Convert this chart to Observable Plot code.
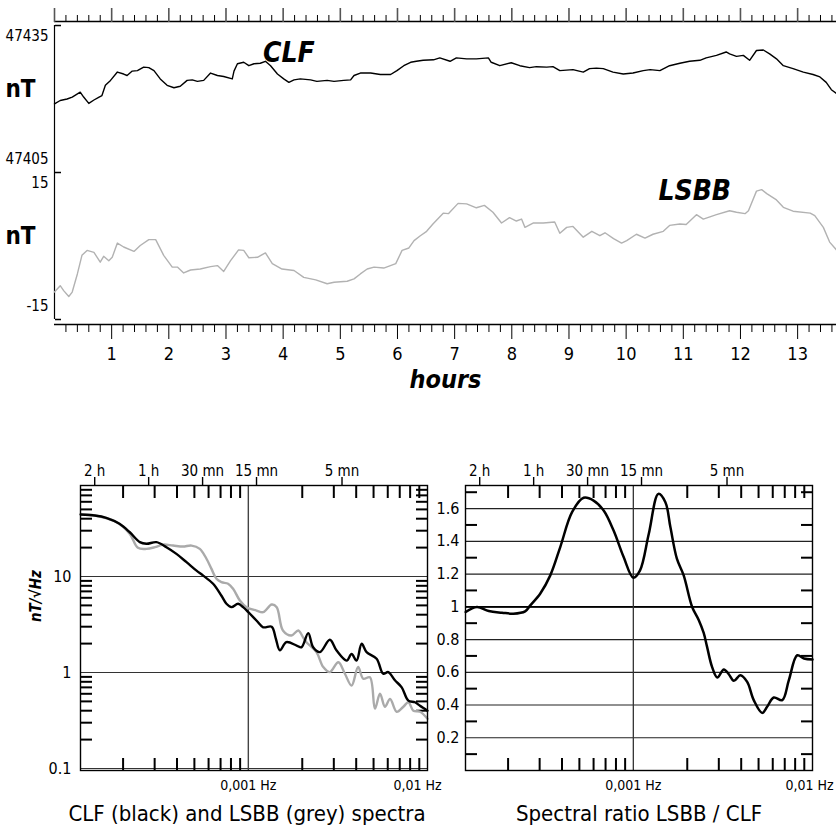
<!DOCTYPE html>
<html><head><meta charset="utf-8">
<script src="https://cdn.jsdelivr.net/npm/d3@7"></script>
<script src="https://cdn.jsdelivr.net/npm/@observablehq/plot@0.6"></script>
<style>
body{margin:0;background:#fff;}
#wrap{position:relative;width:836px;height:840px;overflow:hidden;background:#fff;}
</style></head>
<body><div id="wrap"></div>
<script>
// ---------- DATA ----------
const clfHours = [0.0,0.10,0.22,0.31,0.45,0.51,0.60,0.69,0.78,0.83,
  0.89,0.98,1.10,1.21,1.27,1.36,1.45,1.56,1.65,1.74,
  1.85,1.97,2.09,2.20,2.32,2.41,2.50,2.61,2.73,2.85,
  2.96,3.11,3.14,3.20,3.31,3.40,3.49,3.60,3.69,3.78,
  3.90,4.01,4.10,4.19,4.30,4.48,4.59,4.77,4.89,5.06,
  5.18,5.24,5.35,5.53,5.70,5.88,5.99,6.11,6.23,6.33,
  6.45,6.63,6.74,6.92,7.03,7.21,7.38,7.59,7.64,7.79,
  7.99,8.14,8.31,8.43,8.61,8.72,8.84,9.07,9.25,9.36,
  9.48,9.60,9.77,9.95,10.12,10.30,10.42,10.59,10.76,10.94,
  11.11,11.29,11.40,11.58,11.75,11.81,11.93,12.05,12.16,12.28,
  12.40,12.51,12.63,12.75,12.92,13.10,13.27,13.39,13.50,13.59,13.68];
const clfNT = [47419.0,47419.7,47420.0,47420.4,47421.4,47420.4,47419.1,47419.8,47420.4,47420.7,
  47422.8,47423.8,47425.5,47425.1,47424.8,47425.7,47425.8,47426.5,47426.4,47425.8,
  47424.1,47422.8,47422.3,47422.6,47423.8,47423.9,47423.6,47423.8,47425.3,47424.8,
  47424.6,47424.1,47425.7,47427.2,47427.5,47426.8,47427.2,47427.3,47427.7,47426.8,
  47425.1,47424.1,47423.4,47423.9,47424.1,47423.9,47423.6,47423.8,47423.6,47423.8,
  47423.9,47424.8,47425.3,47425.3,47425.0,47425.0,47425.8,47426.8,47427.5,47427.7,
  47427.9,47428.0,47428.4,47427.7,47428.4,47428.2,47428.2,47428.4,47427.5,47426.8,
  47427.4,47426.8,47426.4,47426.6,47426.5,47426.6,47425.8,47426.0,47425.5,47426.2,
  47426.3,47426.2,47425.5,47425.1,47425.3,47425.8,47426.0,47425.8,47426.8,47427.3,
  47427.7,47427.9,47428.4,47428.9,47429.6,47429.2,47428.7,47428.9,47427.9,47429.9,
  47430.0,47429.2,47428.2,47426.8,47426.2,47425.5,47425.0,47424.5,47423.4,47421.9,47421.1];
const lsbbHours = [0.00,0.10,0.16,0.25,0.31,0.40,0.48,0.57,0.69,0.80,
  0.86,0.95,1.01,1.10,1.21,1.39,1.50,1.65,1.77,1.91,
  2.06,2.15,2.26,2.38,2.55,2.73,2.85,2.96,3.08,3.22,
  3.31,3.40,3.55,3.69,3.81,3.98,4.19,4.36,4.57,4.77,
  4.89,5.12,5.24,5.35,5.47,5.59,5.76,5.97,6.08,6.20,
  6.29,6.40,6.51,6.62,6.80,6.89,7.06,7.21,7.38,7.52,
  7.67,7.82,7.96,8.08,8.17,8.23,8.38,8.55,8.75,8.84,
  8.96,9.07,9.25,9.40,9.54,9.63,9.78,9.92,10.01,10.18,
  10.33,10.47,10.65,10.76,10.94,11.05,11.23,11.35,11.58,11.81,
  11.93,12.08,12.14,12.28,12.37,12.46,12.63,12.75,12.92,13.22,
  13.30,13.45,13.56,13.68];
const lsbbNT = [-9.4,-8.1,-9.1,-10.3,-9.4,-5.7,-1.9,-0.9,-1.3,-3.3,
  -2.1,-3.0,-2.3,0.6,-0.2,-1.1,0.1,1.3,1.3,-1.9,
  -4.3,-4.3,-5.5,-4.9,-4.7,-4.2,-4.0,-5.2,-3.0,-0.8,
  -0.9,-2.4,-2.3,-1.4,-3.6,-4.7,-5.0,-6.4,-6.9,-7.7,
  -7.4,-7.2,-6.7,-5.7,-4.7,-4.3,-4.5,-3.6,-0.9,-0.4,
  1.1,2.1,3.0,4.5,6.7,6.6,8.7,8.6,7.8,8.3,
  6.9,4.7,5.8,5.1,5.5,3.8,4.7,4.7,4.9,2.6,
  3.8,4.0,1.8,3.0,2.1,2.7,1.5,0.6,1.1,2.4,
  1.6,2.4,3.0,4.2,4.5,4.4,6.4,5.5,6.4,7.2,
  6.9,6.6,7.2,11.2,11.5,10.7,9.4,7.9,7.1,6.7,
  6.2,3.8,0.8,-0.8];
const clfScale = [47405, 47435];
const lsbbScale = [-15, 15];
const hourTicks = [1,2,3,4,5,6,7,8,9,10,11,12,13];

const specFreqClf = [1.16e-4,1.39e-4,1.61e-4,1.91e-4,2.18e-4,2.48e-4,2.70e-4,3.07e-4,3.49e-4,3.97e-4,
  4.52e-4,5.14e-4,5.60e-4,6.36e-4,7.08e-4,7.55e-4,8.05e-4,8.77e-4,9.35e-4,1.00e-3,
  1.11e-3,1.21e-3,1.35e-3,1.42e-3,1.50e-3,1.63e-3,1.86e-3,1.98e-3,2.16e-3,2.30e-3,
  2.51e-3,2.85e-3,3.11e-3,3.54e-3,3.77e-3,4.02e-3,4.29e-3,4.57e-3,5.20e-3,5.66e-3,
  6.04e-3,6.58e-3,7.18e-3,7.82e-3,8.51e-3,9.08e-3,1.0e-2];
const specAmpClf = [44.2,43.2,40.9,35.4,28.9,22.8,21.9,22.8,20.2,17.2,
  14.1,11.5,10.2,8.4,6.3,5.2,4.8,5.2,4.8,4.25,
  3.48,2.96,3.0,2.3,1.7,2.07,1.91,1.83,2.57,1.83,
  1.63,2.19,1.69,1.33,1.56,1.33,1.99,1.63,1.39,0.97,
  1.01,0.83,0.70,0.51,0.49,0.45,0.40];
const specFreqLsbb = [1.16e-4,1.39e-4,1.84e-4,2.18e-4,2.42e-4,2.70e-4,3.01e-4,3.34e-4,3.80e-4,4.32e-4,
  4.82e-4,5.36e-4,5.84e-4,6.23e-4,6.64e-4,7.08e-4,7.71e-4,8.22e-4,8.97e-4,9.77e-4,
  1.11e-3,1.21e-3,1.35e-3,1.44e-3,1.56e-3,1.74e-3,1.90e-3,2.02e-3,2.11e-3,2.40e-3,
  2.62e-3,2.85e-3,3.18e-3,3.46e-3,3.77e-3,4.10e-3,4.38e-3,4.77e-3,5.09e-3,5.43e-3,
  5.79e-3,6.18e-3,6.73e-3,7.33e-3,7.82e-3,8.34e-3,9.08e-3,1.0e-2];
const specAmpLsbb = [44.2,43.2,36.8,27.8,19.9,19.4,20.2,21.5,21.0,20.5,
  21.0,19.4,15.3,12.0,9.46,8.73,8.40,7.45,5.62,4.79,
  4.42,4.25,5.11,4.79,2.74,2.43,2.74,2.33,2.07,1.63,
  1.14,1.01,1.28,0.97,0.73,1.14,0.86,0.89,0.42,0.60,
  0.44,0.53,0.39,0.44,0.49,0.40,0.39,0.33];
const ratioFreq = [1.16e-4,1.34e-4,1.56e-4,1.85e-4,2.14e-4,2.49e-4,2.66e-4,3.02e-4,3.44e-4,3.91e-4,
  4.55e-4,5.28e-4,6.00e-4,6.83e-4,7.76e-4,8.83e-4,1.0e-3,1.09e-3,1.22e-3,1.38e-3,
  1.51e-3,1.61e-3,1.75e-3,1.91e-3,2.13e-3,2.32e-3,2.47e-3,2.58e-3,2.75e-3,2.94e-3,
  3.20e-3,3.41e-3,3.64e-3,3.96e-3,4.32e-3,4.70e-3,5.24e-3,5.58e-3,6.08e-3,6.78e-3,
  7.38e-3,8.22e-3,8.96e-3,1.0e-2];
const ratioValue = [0.968,0.999,0.974,0.964,0.958,0.972,1.009,1.080,1.192,1.365,
  1.578,1.666,1.649,1.588,1.466,1.304,1.178,1.223,1.446,1.690,
  1.639,1.487,1.294,1.192,0.999,0.918,0.84,0.755,0.633,0.568,
  0.617,0.588,0.548,0.582,0.541,0.430,0.352,0.389,0.446,0.430,
  0.552,0.704,0.684,0.678];
const periodSeconds = [7200, 3600, 1800, 900, 300];
const periodLabels = ["2 h", "1 h", "30 mn", "15 mn", "5 mn"];
const freqTickValues = [0.001, 0.01];
const freqTickLabels = ["0,001 Hz", "0,01 Hz"];
const ampTicks = [10, 1, 0.1];
const ratioTicks = [0.2, 0.4, 0.6, 0.8, 1, 1.2, 1.4, 1.6];
const freqMinorTicks = [2e-4, 3e-4, 4e-4, 5e-4, 6e-4, 7e-4, 8e-4, 9e-4, 2e-3, 3e-3, 4e-3, 5e-3, 6e-3, 7e-3, 8e-3, 9e-3];
const ampMinorTicks = [0.2, 0.3, 0.4, 0.5, 0.6, 0.7, 0.8, 0.9, 2, 3, 4, 5, 6, 7, 8, 9, 20, 30, 40, 50, 60, 70, 80];
const ratioMinorTicks = [0.1, 0.3, 0.5, 0.7, 0.9, 1.1, 1.3, 1.5, 1.7];
const seriesNames = ["CLF", "LSBB"];

// ---------- BUILD ----------
const NARROW = '"Liberation Sans Narrow","Arial Narrow","DejaVu Sans Condensed","Liberation Sans",Arial,sans-serif';
const wrap = document.getElementById("wrap");
function place(svg, left, top) {
  svg.style.position = "absolute";
  svg.style.left = left + "px";
  svg.style.top = top + "px";
  svg.style.overflow = "visible";
  wrap.appendChild(svg);
}
const blank = () => "";

const clf = clfHours.map((h, i) => ({h, y: clfNT[i] - clfScale[0] + 30}));
const lsbb = lsbbHours.map((h, i) => ({h, y: lsbbNT[i] - lsbbScale[0]}));
const bands = [
  {lo: 30, hi: 60, loLabel: String(clfScale[0]), hiLabel: String(clfScale[1])},
  {lo: 0, hi: 30, loLabel: String(lsbbScale[0]), hiLabel: String(lsbbScale[1])}
];
const bandEnds = [60, 30, 0];
const stackDomain = [-1.02, 60.82];
const hourMinor = d3.range(0, 13.7, 0.2).filter(h => Math.abs(h - Math.round(h)) > 0.01);
const nameLabels = [
  {name: seriesNames[0], h: 4.1, y: 47429.3 - clfScale[0] + 30},
  {name: seriesNames[1], h: 11.2, y: 11.3 - lsbbScale[0]}
];

const topPlot = Plot.plot({
  width: 836, height: 400,
  marginLeft: 54, marginRight: 0, marginTop: 21, marginBottom: 76,
  style: {fontFamily: NARROW, background: "transparent", color: "#000"},
  x: {domain: [0, 13.68], axis: null},
  y: {domain: stackDomain, axis: null},
  marks: [
    Plot.ruleY([stackDomain[0], stackDomain[1]], {stroke: "#000", strokeWidth: 1.4}),
    Plot.axisX(d3.range(0, 14), {anchor: "top", label: null, tickSize: 14, tickFormat: blank, stroke: "#555", strokeWidth: 1.6}),
    Plot.axisX(hourMinor, {anchor: "top", label: null, tickSize: 7, tickFormat: blank}),
    Plot.axisX(hourTicks, {anchor: "bottom", label: null, tickSize: 15, tickPadding: 8, fontSize: 18, tickFormat: d => String(d)}),
    Plot.axisX(hourMinor, {anchor: "bottom", label: null, tickSize: 8, tickFormat: blank}),
    Plot.ruleX(bands, {x: () => 0, y1: "lo", y2: "hi", stroke: "#000", strokeWidth: 1.2}),
    Plot.axisY(bandEnds, {anchor: "right", label: null, tickSize: 6, dx: -782, tickFormat: blank, stroke: "#000", strokeWidth: 1.5}),
    Plot.text(bands, {x: () => 0, y: "hi", text: "hiLabel", dx: -6, dy: 11, textAnchor: "end", fontSize: 15}),
    Plot.text(bands, {x: () => 0, y: "lo", text: "loLabel", dx: -6, dy: -13, textAnchor: "end", fontSize: 15}),
    Plot.text(bands, {x: () => 0, y: d => (d.lo + d.hi) / 2, text: () => "nT", dx: -19, dy: -10, textAnchor: "end", fontSize: 24, fontWeight: "bold"}),
    Plot.line(lsbb, {x: "h", y: "y", stroke: "#b2b2b2", strokeWidth: 1.4}),
    Plot.line(clf, {x: "h", y: "y", stroke: "#000", strokeWidth: 1.4}),
    Plot.text(nameLabels, {x: "h", y: "y", text: "name", fontSize: 28, fontWeight: "bold", fontStyle: "italic"}),
    Plot.text(["hours"], {frameAnchor: "bottom", dy: 63, fontSize: 25, fontWeight: "bold", fontStyle: "italic"})
  ]
});
place(topPlot, 0, 0);

const freqDomain = [1.157e-4, 0.01];
const ampDomain = [0.0953, 88.7];
const ratioDomain = [0, 1.741];
const innerTick = 12;
const periods = periodSeconds.map((s, i) => ({f: 1 / s, label: periodLabels[i]}));
const freqLabels = freqTickValues.map((f, i) => ({f, label: freqTickLabels[i]}));
const specClf = specFreqClf.map((f, i) => ({f, a: specAmpClf[i]}));
const specLsbb = specFreqLsbb.map((f, i) => ({f, a: specAmpLsbb[i]}));
const ratio = ratioFreq.map((f, i) => ({f, r: ratioValue[i]}));

function panelMarks(yMinor, rightLabelDx) {
  const st = {label: null, tickSize: innerTick, tickFormat: blank, stroke: "#000", strokeWidth: 2};
  return [
    // short ticks pointing into the frame on all four sides
    Plot.axisX(freqMinorTicks, {anchor: "bottom", dy: -innerTick, ...st}),
    Plot.axisX(freqMinorTicks, {anchor: "top", dy: innerTick, ...st}),
    Plot.axisY(yMinor, {anchor: "left", dx: innerTick, ...st}),
    Plot.axisY(yMinor, {anchor: "right", dx: -innerTick, ...st}),
    Plot.axisX(periods.map(d => d.f), {anchor: "top", label: null, tickSize: 9, tickFormat: blank, stroke: "#000", strokeWidth: 1.4}),
    Plot.text(periods, {x: "f", text: "label", frameAnchor: "top", dy: -20, fontSize: 15}),
    Plot.text([freqLabels[0]], {x: "f", text: "label", frameAnchor: "bottom", dy: 19, fontSize: 14}),
    Plot.text([freqLabels[1]], {x: "f", text: "label", frameAnchor: "bottom", dy: 19, dx: rightLabelDx, fontSize: 14})
  ];
}

const leftPlot = Plot.plot({
  width: 440, height: 400,
  marginLeft: 80, marginRight: 13, marginTop: 45, marginBottom: 70,
  style: {fontFamily: NARROW, background: "transparent", color: "#000"},
  x: {type: "log", domain: freqDomain, axis: null},
  y: {type: "log", domain: ampDomain, axis: null},
  marks: [
    Plot.ruleY(ampTicks, {stroke: "#333", strokeWidth: 1.2}),
    Plot.ruleX([freqTickValues[0]], {stroke: "#444", strokeWidth: 1.4}),
    ...panelMarks(ampMinorTicks, -10),
    Plot.axisY(ampTicks, {anchor: "left", label: null, tickSize: 0, tickPadding: 9, fontSize: 16, tickFormat: d => String(d)}),
    Plot.line(specLsbb, {x: "f", y: "a", stroke: "#aaaaaa", strokeWidth: 2.4, curve: "catmull-rom"}),
    Plot.line(specClf, {x: "f", y: "a", stroke: "#000", strokeWidth: 2.4, curve: "catmull-rom"}),
    Plot.frame({stroke: "#000", strokeWidth: 1.4}),
    Plot.text(["nT/√Hz"], {frameAnchor: "left", dx: -44, dy: -6, rotate: -90, fontSize: 15, fontWeight: "bold", fontStyle: "italic"}),
    Plot.text(["CLF (black) and LSBB (grey) spectra"], {frameAnchor: "bottom", dy: 50, dx: -7, fontSize: 22})
  ]
});
place(leftPlot, 0, 440);

const rightPlot = Plot.plot({
  width: 396, height: 400,
  marginLeft: 25, marginRight: 24, marginTop: 45, marginBottom: 70,
  style: {fontFamily: NARROW, background: "transparent", color: "#000"},
  x: {type: "log", domain: freqDomain, axis: null},
  y: {domain: ratioDomain, axis: null},
  marks: [
    Plot.ruleY(ratioTicks, {stroke: "#222", strokeWidth: 1.2}),
    Plot.ruleY([1], {stroke: "#000", strokeWidth: 1.8}),
    Plot.ruleX([freqTickValues[0]], {stroke: "#333", strokeWidth: 1.3}),
    ...panelMarks(ratioMinorTicks, -3),
    Plot.axisY(ratioTicks, {anchor: "left", label: null, tickSize: 0, tickPadding: 6, fontSize: 16, tickFormat: d => String(d)}),
    Plot.line(ratio, {x: "f", y: "r", stroke: "#000", strokeWidth: 2.5, curve: "catmull-rom"}),
    Plot.frame({stroke: "#000", strokeWidth: 1.4}),
    Plot.text(["Spectral ratio LSBB / CLF"], {frameAnchor: "bottom", dy: 50, fontSize: 22})
  ]
});
place(rightPlot, 440, 440);
</script>
</body></html>
